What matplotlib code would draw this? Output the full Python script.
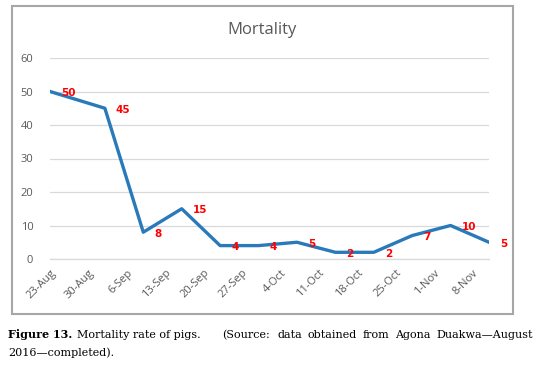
import datetime as dt

import matplotlib
matplotlib.use("Agg")
import matplotlib.pyplot as plt
from matplotlib.patches import Rectangle

# data
dates = ["2016-08-23", "2016-09-02", "2016-09-09", "2016-09-16", "2016-09-23", "2016-09-30",
         "2016-10-07", "2016-10-14", "2016-10-21", "2016-10-28", "2016-11-04", "2016-11-11"]
deaths = [50, 45, 8, 15, 4, 4, 5, 2, 2, 7, 10, 5]
tick_dates = ["2016-08-23", "2016-08-30", "2016-09-06", "2016-09-13", "2016-09-20", "2016-09-27",
              "2016-10-04", "2016-10-11", "2016-10-18", "2016-10-25", "2016-11-01", "2016-11-08"]
tick_labels = ["23-Aug", "30-Aug", "6-Sep", "13-Sep", "20-Sep", "27-Sep",
               "4-Oct", "11-Oct", "18-Oct", "25-Oct", "1-Nov", "8-Nov"]
y_ticks = [0, 10, 20, 30, 40, 50, 60]

x = [dt.datetime.strptime(d, "%Y-%m-%d") for d in dates]
xt = [dt.datetime.strptime(d, "%Y-%m-%d") for d in tick_dates]

W, H = 539, 366
fig = plt.figure(figsize=(W / 100, H / 100), dpi=100)
fig.patch.set_facecolor("white")
sans = ["Open Sans", "DejaVu Sans"]

# chart frame
fig.patches.append(Rectangle((12 / W, 1 - 314 / H), 501 / W, 308 / H, transform=fig.transFigure,
                             fill=False, edgecolor="#a6a6a6", linewidth=1.5))

ax = fig.add_axes([50 / W, 1 - 259 / H, 439 / W, 201 / H])
ax.plot(x, deaths, color="#2a7ab9", linewidth=2.4, solid_joinstyle="round", zorder=3)
for xi, yi in zip(x, deaths):
    ax.annotate(str(yi), (xi, yi), xytext=(8, -1), textcoords="offset points",
                ha="left", va="center", color="#ff0000", fontsize=7.5, fontweight="bold",
                family="DejaVu Sans", annotation_clip=False)

ax.set_xlim(x[0], x[-1])
ax.set_ylim(0, 60)
ax.set_yticks(y_ticks)
ax.set_xticks(xt)
ax.set_xticklabels(tick_labels, rotation=45, ha="right", rotation_mode="anchor", family=sans)
for lab in ax.get_yticklabels():
    lab.set_family(sans)
ax.grid(axis="y", color="#d9d9d9", linewidth=0.9)
ax.axhline(0, color="#d9d9d9", linewidth=0.9, clip_on=False, zorder=1)
ax.set_axisbelow(True)
for s in ax.spines.values():
    s.set_visible(False)
ax.tick_params(length=0, colors="#595959", labelsize=8)
ax.tick_params(axis="y", pad=12)
ax.tick_params(axis="x", pad=6)

fig.text(262 / W, 1 - 30 / H, "Mortality", ha="center", va="center", fontsize=12,
         color="#595959", family=sans)

# caption, word positions set to mimic justified text
serif = "DejaVu Serif"
y1 = 1 - 335 / H
y2 = 1 - 353 / H
fig.text(8 / W, y1, "Figure 13.", ha="left", va="center", fontsize=8, family=serif, fontweight="bold")
for px, word in [(77, "Mortality rate of pigs."), (222, "(Source:"), (277, "data"), (307, "obtained"),
                 (363, "from"), (395, "Agona")]:
    fig.text(px / W, y1, word, ha="left", va="center", fontsize=8, family=serif)
fig.text(533 / W, y1, "Duakwa\u2014August", ha="right", va="center", fontsize=8, family=serif)
fig.text(8 / W, y2, "2016\u2014completed).", ha="left", va="center", fontsize=8, family=serif)

fig.savefig("out.png", dpi=100)
